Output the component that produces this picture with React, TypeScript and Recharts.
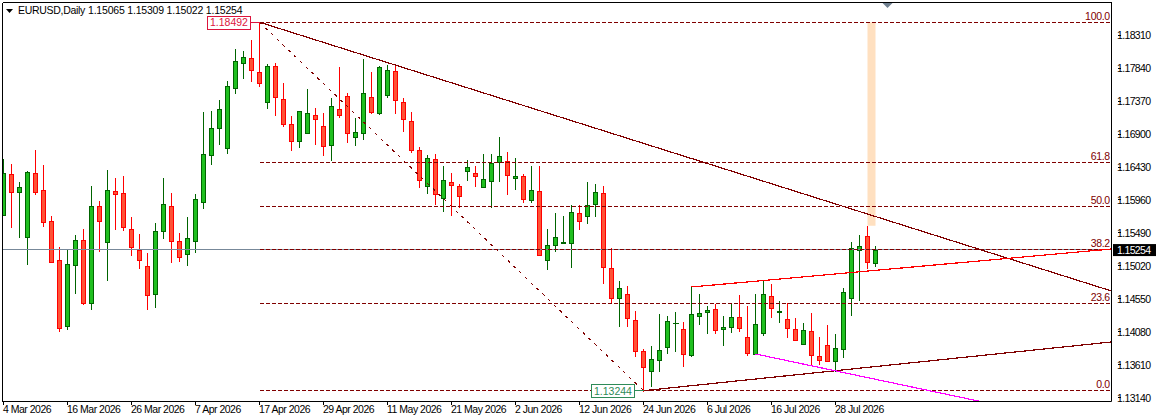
import { Bar, ComposedChart, ReferenceArea, ReferenceDot, ReferenceLine, XAxis, YAxis } from "recharts";

const opens = [
  1.15747, 1.1633, 1.16074, 1.15433, 1.16344, 1.16102, 1.15661, 1.15105, 1.14165, 1.15034,
  1.1539, 1.14493, 1.15875, 1.15362, 1.16088, 1.1606, 1.15547, 1.15248, 1.1502, 1.14621,
  1.15519, 1.15875, 1.15376, 1.15191, 1.15376, 1.15932, 1.16601, 1.16985, 1.16701, 1.17555,
  1.17911, 1.17982, 1.17783, 1.17356, 1.17868, 1.17398, 1.17042, 1.16801, 1.16914, 1.17171,
  1.17014, 1.16744, 1.17256, 1.17441, 1.16858, 1.16914, 1.17427, 1.17199, 1.17456, 1.17798,
  1.17356, 1.17085, 1.16672, 1.16159, 1.16544, 1.15989, 1.16217, 1.16159, 1.16373, 1.16344,
  1.16145, 1.16231, 1.16501, 1.16516, 1.16273, 1.16302, 1.1596, 1.16088, 1.15105, 1.15319,
  1.15348, 1.15348, 1.15775, 1.15733, 1.15903, 1.1606, 1.14991, 1.14564, 1.14621, 1.14251,
  1.1381, 1.13525, 1.13681, 1.13867, 1.14208, 1.14122, 1.13753, 1.14308, 1.14365, 1.14407,
  1.14122, 1.14151, 1.14294, 1.14008, 1.13767, 1.14065, 1.14593, 1.14365, 1.14265, 1.14122,
  1.13909, 1.14094, 1.13738, 1.13895, 1.13667, 1.13838, 1.14564, 1.15248, 1.15447, 1.15065,
];
const highs = [
  1.16544, 1.16473, 1.16217, 1.16373, 1.16672, 1.16459, 1.15733, 1.1529, 1.15248, 1.15462,
  1.15547, 1.16159, 1.15946, 1.16387, 1.16273, 1.16302, 1.15718, 1.15476, 1.15205, 1.15632,
  1.16273, 1.1606, 1.1549, 1.15718, 1.16045, 1.17214, 1.17228, 1.17384, 1.17655, 1.1811,
  1.18082, 1.18239, 1.18492, 1.17897, 1.17911, 1.17626, 1.17157, 1.17228, 1.17541, 1.1727,
  1.17199, 1.17413, 1.17854, 1.17484, 1.17128, 1.17968, 1.17783, 1.17868, 1.17883, 1.17883,
  1.17413, 1.17214, 1.16715, 1.16601, 1.16615, 1.16444, 1.16344, 1.16188, 1.1653, 1.16444,
  1.16615, 1.16615, 1.16858, 1.16644, 1.16558, 1.1633, 1.16444, 1.16444, 1.15547, 1.15775,
  1.15733, 1.15889, 1.15889, 1.16217, 1.16188, 1.16159, 1.15276, 1.14807, 1.14735, 1.14379,
  1.13838, 1.13881, 1.14336, 1.14308, 1.14365, 1.14223, 1.14721, 1.14621, 1.1445, 1.14479,
  1.14308, 1.14493, 1.14607, 1.1445, 1.14621, 1.14807, 1.14764, 1.14522, 1.14493, 1.14279,
  1.14208, 1.1435, 1.14008, 1.1418, 1.14051, 1.14707, 1.15362, 1.15462, 1.1559, 1.15309,
];
const lows = [
  1.15747, 1.15575, 1.15433, 1.15048, 1.16045, 1.1559, 1.15077, 1.14094, 1.14122, 1.14635,
  1.14479, 1.14407, 1.15234, 1.14821, 1.15547, 1.15533, 1.15177, 1.14991, 1.14407, 1.14436,
  1.15419, 1.15077, 1.15091, 1.15034, 1.1522, 1.15846, 1.16473, 1.16758, 1.1663, 1.17484,
  1.17698, 1.17655, 1.17584, 1.1727, 1.17171, 1.17014, 1.16672, 1.16715, 1.16914, 1.16758,
  1.16601, 1.1653, 1.17142, 1.16786, 1.16744, 1.16829, 1.17199, 1.17185, 1.17427, 1.17199,
  1.16943, 1.16644, 1.16145, 1.1606, 1.15903, 1.15803, 1.15747, 1.15861, 1.16245, 1.16159,
  1.16145, 1.15861, 1.16231, 1.16045, 1.16116, 1.15932, 1.15932, 1.15177, 1.14977, 1.15234,
  1.15348, 1.15005, 1.15547, 1.15632, 1.15733, 1.14778, 1.14493, 1.14165, 1.14165, 1.13738,
  1.13244, 1.13311, 1.13525, 1.13781, 1.1381, 1.13596, 1.13738, 1.14194, 1.14066, 1.14066,
  1.13895, 1.1408, 1.14094, 1.13753, 1.13767, 1.14037, 1.14294, 1.14223, 1.14008, 1.13966,
  1.13909, 1.13624, 1.13624, 1.13667, 1.13525, 1.13724, 1.14322, 1.14536, 1.14991, 1.15022,
];
const closes = [
  1.16344, 1.16074, 1.16145, 1.16359, 1.16074, 1.15647, 1.15077, 1.14136, 1.15048, 1.1539,
  1.14493, 1.15875, 1.15661, 1.16102, 1.16045, 1.15575, 1.1529, 1.15105, 1.14607, 1.15519,
  1.15903, 1.15376, 1.15148, 1.15419, 1.15974, 1.16615, 1.16985, 1.17256, 1.17584, 1.1794,
  1.17997, 1.17812, 1.17626, 1.17868, 1.17427, 1.17042, 1.16801, 1.17228, 1.17199, 1.17114,
  1.16729, 1.17299, 1.17171, 1.16914, 1.16929, 1.17484, 1.17214, 1.17854, 1.17812, 1.17384,
  1.17114, 1.16672, 1.16245, 1.16558, 1.16045, 1.16245, 1.16174, 1.16017, 1.1643, 1.16302,
  1.16259, 1.16487, 1.16587, 1.16316, 1.16302, 1.15974, 1.16102, 1.15177, 1.15319, 1.15433,
  1.15355, 1.15789, 1.15661, 1.15889, 1.16074, 1.15005, 1.14564, 1.14707, 1.14279, 1.1381,
  1.13582, 1.13695, 1.13824, 1.14237, 1.14208, 1.13767, 1.14336, 1.14351, 1.14393, 1.14108,
  1.14151, 1.14294, 1.14136, 1.13781, 1.14194, 1.14621, 1.14422, 1.14372, 1.14136, 1.13966,
  1.14108, 1.13753, 1.13681, 1.13667, 1.13852, 1.1465, 1.15276, 1.15305, 1.15077, 1.15254,
];

const priceTicks = [1.1831, 1.1784, 1.1737, 1.169, 1.1643, 1.1596, 1.1549, 1.1502, 1.1455, 1.1408, 1.1361, 1.1314];
const lastPrice = 1.15254;

const dateTickIndexes = [0, 8, 16, 24, 32, 40, 48, 56, 64, 72, 80, 88, 96, 104];
const dateTickLabels = [
  "4 Mar 2026", "16 Mar 2026", "26 Mar 2026", "7 Apr 2026", "17 Apr 2026", "29 Apr 2026", "11 May 2026",
  "21 May 2026", "2 Jun 2026", "12 Jun 2026", "24 Jun 2026", "6 Jul 2026", "16 Jul 2026", "28 Jul 2026",
];

const fibLabels = ["100.0", "61.8", "50.0", "38.2", "23.6", "0.0"];
const fibPrices = [1.18492, 1.16487, 1.15868, 1.15249, 1.14483, 1.13244];

const xMin = -0.125;
const xMax = 138.5;
const yMin = 1.1309;
const yMax = 1.18773;

const swingHigh = { index: 32, price: 1.18492 };
const swingLow = { index: 80, price: 1.13244 };

const candles = opens.map((open, i) => ({ index: i, open, high: highs[i], low: lows[i], close: closes[i] }));

const DARK_RED = "#800000";
const FONT = "'Liberation Sans', sans-serif";

function Candle(props: any) {
  const { x, y, width, height, payload } = props;
  const cx = Math.floor(x + width / 2) + 0.5;
  const up = payload.close >= payload.open;
  const perUnit = height / (payload.high - payload.low || 1);
  const top = Math.round(y + (payload.high - Math.max(payload.open, payload.close)) * perUnit) + 0.5;
  const bottom = Math.round(y + (payload.high - Math.min(payload.open, payload.close)) * perUnit) + 0.5;
  const edge = up ? "#006400" : "#ff0000";
  const left = Math.max(cx - 2, 2.5);
  return (
    <g shapeRendering="crispEdges">
      <line x1={cx} x2={cx} y1={Math.round(y)} y2={Math.round(y + height) + 1} stroke={edge} />
      {bottom - top < 1 ? (
        <line x1={cx - 3} x2={cx + 3} y1={top} y2={top} stroke={edge} />
      ) : (
        <rect x={left} y={top} width={cx + 2 - left} height={bottom - top} fill={up ? "#1fbf1f" : "#ff5236"} stroke={edge} />
      )}
    </g>
  );
}

function PriceTick(props: any) {
  const { x, y, payload } = props;
  const value = payload.value as number;
  if (value === lastPrice) {
    return (
      <g>
        <rect x={1113} y={y - 5.5} width={43} height={12} fill="#000000" />
        <text x={1117} y={y + 4} fill="#ffffff" fontSize={10.5} letterSpacing={-0.65} fontFamily={FONT}>
          {value.toFixed(5)}
        </text>
      </g>
    );
  }
  return (
    <g>
      <line x1={x} x2={x + 3} y1={y} y2={y} stroke="#000000" shapeRendering="crispEdges" />
      <text x={1117} y={y + 4} fill="#000000" fontSize={10.5} letterSpacing={-0.65} fontFamily={FONT}>
        {value.toFixed(5)}
      </text>
    </g>
  );
}

function DateTick(props: any) {
  const { x, payload } = props;
  const label = dateTickLabels[dateTickIndexes.indexOf(payload.value)];
  return (
    <g>
      <line x1={x} x2={x} y1={401.5} y2={405} stroke="#000000" shapeRendering="crispEdges" />
      <text x={x - 0.5} y={413} fill="#000000" fontSize={10.5} letterSpacing={-0.5} fontFamily={FONT}>
        {label}
      </text>
    </g>
  );
}

function PriceBox({ cx, cy, text, color, textColor }: any) {
  const boxRight = cx - 9;
  return (
    <g shapeRendering="crispEdges">
      <line x1={boxRight} x2={cx} y1={cy} y2={cy} stroke={color} />
      <rect x={boxRight - 43} y={cy - 6} width={43} height={13} fill="#ffffff" stroke={color} />
      <text x={boxRight - 40.5} y={cy + 4} fill={textColor} fontSize={10.5} letterSpacing={0} fontFamily={FONT} shapeRendering="auto">
        {text}
      </text>
    </g>
  );
}

export default function App() {
  return (
    <div style={{ position: "absolute", left: 0, top: 0, width: 1156, height: 415, overflow: "hidden", background: "#ffffff" }}>
      <ComposedChart
        width={1156}
        height={415}
        data={candles}
        margin={{ top: 2.5, right: 0, bottom: 0, left: 2.5 }}
        barCategoryGap={0}
      >
        <XAxis
          type="number"
          dataKey="index"
          domain={[xMin, xMax]}
          ticks={dateTickIndexes}
          interval={0}
          height={13.5}
          allowDataOverflow
          tick={<DateTick />}
          tickLine={false}
          tickMargin={0}
          axisLine={{ stroke: "#000000" }}
        />
        <YAxis
          type="number"
          orientation="right"
          domain={[yMin, yMax]}
          ticks={[...priceTicks, lastPrice]}
          interval={0}
          width={44.5}
          allowDataOverflow
          tick={<PriceTick />}
          tickLine={false}
          tickMargin={0}
          axisLine={{ stroke: "#000000" }}
        />
        <ReferenceLine x={xMin} stroke="#000000" shapeRendering="crispEdges" />
        <ReferenceLine y={yMax} stroke="#000000" shapeRendering="crispEdges" />
        <ReferenceArea x1={108} x2={109} y1={1.18492} y2={1.15594} fill="#ffe0c0" fillOpacity={1} stroke="none" />
        <ReferenceLine y={lastPrice} stroke="#778899" shapeRendering="crispEdges" />
        {fibPrices.map((price) => (
          <ReferenceLine
            key={price}
            segment={[{ x: swingHigh.index, y: price }, { x: 138.3, y: price }]}
            stroke={DARK_RED}
            strokeDasharray="4 2"
            shapeRendering="crispEdges"
          />
        ))}
        <ReferenceLine
          segment={[{ x: swingHigh.index, y: swingHigh.price }, { x: swingLow.index, y: swingLow.price }]}
          stroke={DARK_RED}
          strokeDasharray="3 5"
          shapeRendering="crispEdges"
        />
        <Bar dataKey={(d: any) => [d.low, d.high]} shape={<Candle />} barSize={8} isAnimationActive={false} />
        <ReferenceLine
          segment={[{ x: swingHigh.index, y: swingHigh.price }, { x: xMax, y: 1.14664 }]}
          stroke={DARK_RED}
          strokeWidth={1.2}
          shapeRendering="crispEdges"
        />
        <ReferenceLine
          segment={[{ x: swingLow.index, y: swingLow.price }, { x: xMax, y: 1.13938 }]}
          stroke={DARK_RED}
          strokeWidth={1.2}
          shapeRendering="crispEdges"
        />
        <ReferenceLine segment={[{ x: 86, y: 1.14721 }, { x: xMax, y: 1.15262 }]} stroke="#ff0000" strokeWidth={1.2} shapeRendering="crispEdges" />
        <ReferenceLine segment={[{ x: 94, y: 1.13767 }, { x: 122.15, y: yMin }]} stroke="#ff00ff" strokeWidth={1.2} shapeRendering="crispEdges" />
        <ReferenceDot
          x={swingHigh.index}
          y={swingHigh.price}
          shape={(p: any) => <PriceBox cx={p.cx} cy={p.cy} text="1.18492" color="#dc143c" textColor="#dc143c" />}
        />
        <ReferenceDot
          x={swingLow.index}
          y={swingLow.price}
          shape={(p: any) => <PriceBox cx={p.cx} cy={p.cy} text="1.13244" color="#2e8b57" textColor="#2e8b57" />}
        />
        {fibPrices.map((price, i) => (
          <ReferenceDot
            key={fibLabels[i]}
            x={138.3}
            y={price}
            shape={(p: any) => (
              <text x={p.cx} y={p.cy - 2.5} textAnchor="end" fill={DARK_RED} fontSize={10.5} letterSpacing={-0.3} fontFamily={FONT}>
                {fibLabels[i]}
              </text>
            )}
          />
        ))}
        <ReferenceDot
          x={110.5}
          y={yMax}
          shape={(p: any) => <polygon points={`${p.cx - 5},3 ${p.cx + 5},3 ${p.cx},8`} fill="#708090" />}
        />
      </ComposedChart>
      <svg width={10} height={6} style={{ position: "absolute", left: 6, top: 9 }}>
        <polygon points="0,0 7,0 3.5,4" fill="#000000" />
      </svg>
      <div style={{ position: "absolute", left: 18, top: 4, fontSize: 10.5, fontFamily: FONT, letterSpacing: -0.3, whiteSpace: "pre", color: "#000000" }}>
        EURUSD,Daily
      </div>
      <div style={{ position: "absolute", left: 88, top: 4, fontSize: 10.5, fontFamily: FONT, letterSpacing: -0.2, whiteSpace: "pre", color: "#000000" }}>
        1.15065 1.15309 1.15022 1.15254
      </div>
    </div>
  );
}
